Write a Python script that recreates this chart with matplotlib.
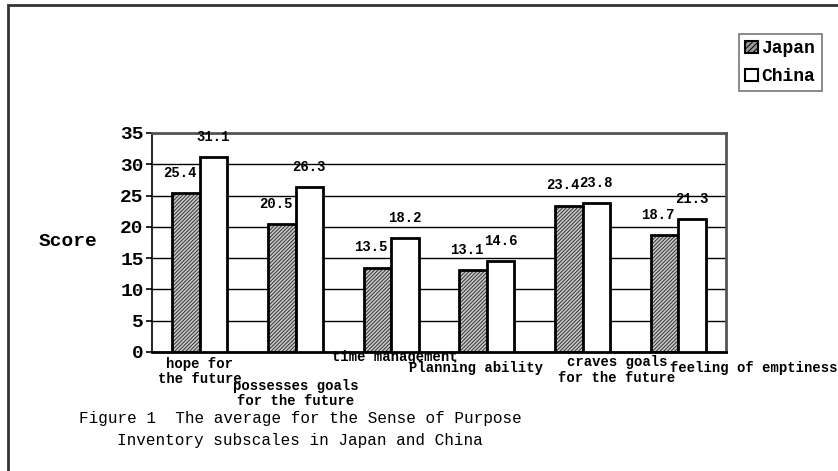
import numpy as np
import matplotlib.pyplot as plt
from matplotlib.patches import Patch, Rectangle
from matplotlib.transforms import blended_transform_factory

# Sense of Purpose Inventory subscales
categories = ['hope for\nthe future', 'possesses goals\nfor the future', 'time management',
              'Planning ability', 'craves goals\nfor the future', 'feeling of emptiness']
japan = [25.4, 20.5, 13.5, 13.1, 23.4, 18.7]
china = [31.1, 26.3, 18.2, 14.6, 23.8, 21.3]
yticks = [0, 5, 10, 15, 20, 25, 30, 35]

# label placement (Excel style staggering)
label_shift = [0.0, 0.0, 0.04, -0.11, 0.36, 0.79]
label_y = [-0.09, -0.19, -0.023, -0.073, -0.082, -0.073]

plt.rcParams['font.family'] = ['Liberation Mono', 'DejaVu Sans Mono']
plt.rcParams['hatch.linewidth'] = 0.7

fig = plt.figure(figsize=(8.38, 4.71), dpi=100)
ax = fig.add_axes([152/838, 1 - 352/471, 574/838, 219/471])

x = np.arange(len(categories))
w = 0.287

# Japan bars: hatch drawn in grey, then black outline
ax.bar(x - w/2, japan, w, color='#c8c8c8', edgecolor='#333333', hatch='/////////', linewidth=0, zorder=2)
ax.bar(x - w/2, japan, w, fill=False, edgecolor='black', linewidth=2, zorder=3)
ax.bar(x + w/2, china, w, color='white', edgecolor='black', linewidth=2, zorder=3)

# value labels
for i in range(len(categories)):
    ax.annotate(f'{japan[i]}', (x[i] - w/2, japan[i]), xytext=(-4.5, 14.5),
                textcoords='offset points', ha='center', va='center',
                fontsize=10, fontweight='bold')
    ax.annotate(f'{china[i]}', (x[i] + w/2, china[i]), xytext=(0, 14.5),
                textcoords='offset points', ha='center', va='center',
                fontsize=10, fontweight='bold')

ax.set_xlim(-0.5, len(categories) - 0.5)
ax.set_ylim(0, 35)
ax.set_yticks(yticks)
ax.set_yticklabels([str(t) for t in yticks], fontsize=14, fontweight='bold')
ax.tick_params(axis='y', direction='out', length=4, width=1.2, pad=2)
ax.set_xticks([])
ax.yaxis.grid(True, color='black', linewidth=1)
ax.set_axisbelow(True)

for s in ['top', 'right']:
    ax.spines[s].set_color('#555555')
    ax.spines[s].set_linewidth(2)
ax.spines['left'].set_linewidth(1.2)
ax.spines['bottom'].set_linewidth(2)

# category labels
trans = blended_transform_factory(ax.transData, ax.transAxes)
for i, lab in enumerate(categories):
    ax.text(x[i] + label_shift[i], label_y[i], lab, transform=trans, ha='center', va='center',
            fontsize=10, fontweight='bold', linespacing=1.1, clip_on=False)

fig.text(68/838, 1 - 242/471, 'Score', ha='center', va='center', fontsize=14, fontweight='bold')

# legend
handles = [Patch(facecolor='#999999', edgecolor='black', hatch='//////', linewidth=1.5),
           Patch(facecolor='white', edgecolor='black', linewidth=1.5)]
leg = fig.legend(handles, ['Japan', 'China'], loc='upper left',
                 bbox_to_anchor=(739/838, 1 - 34/471), frameon=True, fancybox=False,
                 prop={'size': 13, 'weight': 'bold'}, handlelength=0.7, handleheight=0.7,
                 handletextpad=0.2, borderpad=0.35, labelspacing=0.6, borderaxespad=0)
leg.get_frame().set_edgecolor('#555555')
leg.get_frame().set_linewidth(1.2)

# caption
fig.text(300/838, 1 - 418/471, 'Figure 1  The average for the Sense of Purpose',
         ha='center', va='center', fontsize=11.5)
fig.text(300/838, 1 - 440/471, 'Inventory subscales in Japan and China',
         ha='center', va='center', fontsize=11.5)

# outer frame
fig.patches.append(Rectangle((8/838, -0.05), 1.0, 1 - 5/471 + 0.05, transform=fig.transFigure,
                             fill=False, edgecolor='#333333', linewidth=2))

fig.savefig('out.png', dpi=100)
